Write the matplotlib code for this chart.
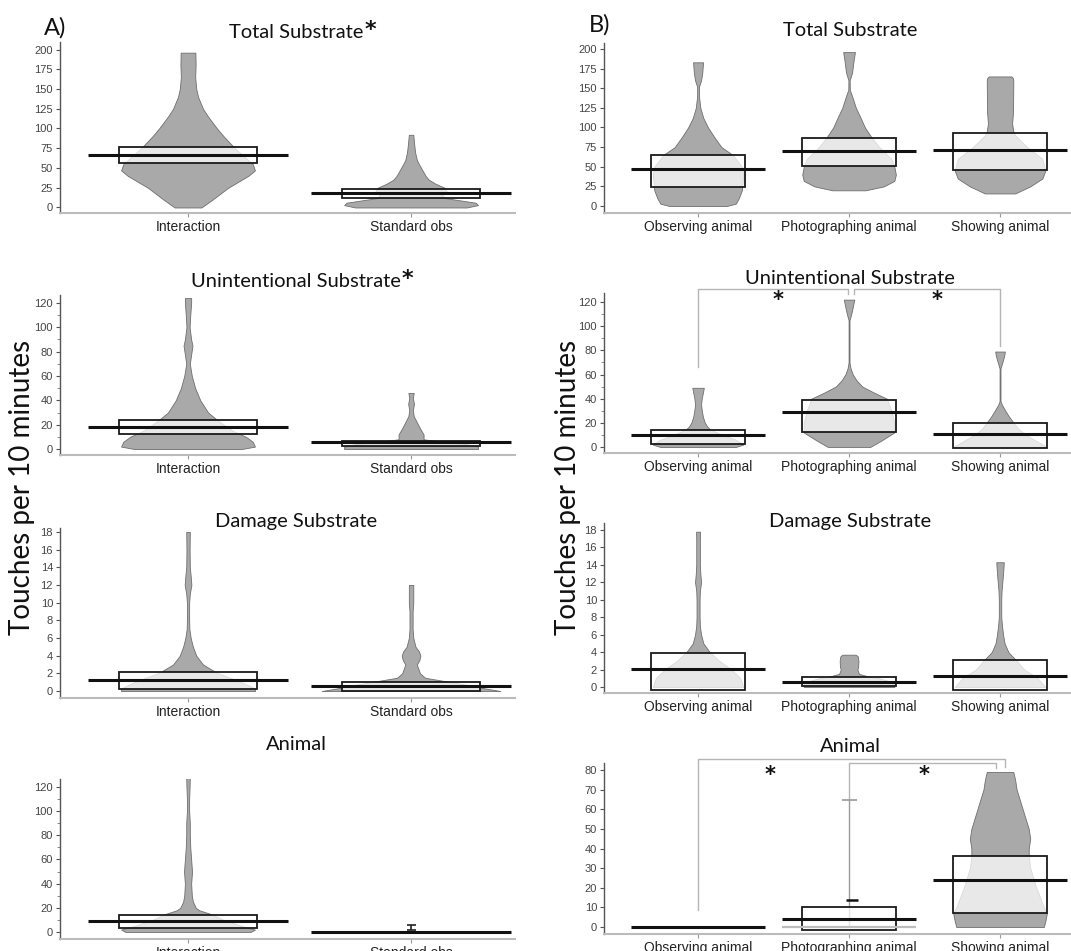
import matplotlib
matplotlib.use("Agg")
import matplotlib.pyplot as plt
from matplotlib.patches import Rectangle
from matplotlib.ticker import MultipleLocator

W, H, DPI = 1071, 951, 100

left_groups = ["Interaction", "Standard obs"]
right_groups = ["Observing animal", "Photographing animal", "Showing animal"]

a_titles = ["Total Substrate", "Unintentional Substrate", "Damage Substrate", "Animal"]
a_star = [True, True, False, False]
b_titles = ["Total Substrate", "Unintentional Substrate", "Damage Substrate", "Animal"]

# means and inference boxes (low, high) per group
a_means = [[67, 18.6], [18, 5.5], [1.2, 0.55], [8.8, 0.0]]
a_box_lo = [[55.7, 12.6], [12, 2.2], [0.2, 0.05], [3, None]]
a_box_hi = [[76.8, 23], [24, 6.3], [2.1, 1.0], [14.3, None]]

b_means = [[47, 70.6, 71.5], [9.7, 29, 11], [2.1, 0.6, 1.3], [0.0, 4.1, 24]]
b_box_lo = [[24, 50.6, 45.5], [2.2, 12, -0.5], [-0.35, 0.1, -0.35], [None, -1.5, 7]]
b_box_hi = [[65, 87, 93.5], [14.4, 38.5, 20], [3.9, 1.1, 3.05], [None, 10, 36]]

# violin outlines: (value, half width of density)
viol_a1_int = [(0, 0.06), (10, 0.11), (25, 0.18), (40, 0.27), (47, 0.30), (55, 0.29), (65, 0.25),
               (75, 0.21), (90, 0.16), (100, 0.13), (115, 0.09), (125, 0.067), (140, 0.045),
               (150, 0.037), (165, 0.032), (180, 0.034), (196, 0.033)]
viol_a1_std = [(0, 0.25), (3, 0.30), (6, 0.29), (9, 0.22), (12, 0.15), (16, 0.14), (20, 0.16),
               (25, 0.15), (30, 0.11), (35, 0.08), (40, 0.065), (45, 0.055), (50, 0.045),
               (55, 0.035), (60, 0.026), (70, 0.018), (80, 0.014), (92, 0.01)]
viol_a2_int = [(0, 0.24), (2, 0.30), (6, 0.29), (10, 0.26), (15, 0.20), (20, 0.16), (24, 0.13),
               (30, 0.09), (40, 0.055), (50, 0.032), (60, 0.017), (70, 0.008), (80, 0.016),
               (85, 0.02), (90, 0.014), (100, 0.007), (110, 0.01), (120, 0.014), (124, 0.014)]
viol_a2_std = [(0, 0.30), (2, 0.30), (4, 0.25), (6.5, 0.12), (8, 0.056), (12, 0.056), (17, 0.04),
               (22, 0.026), (27, 0.012), (32, 0.008), (37, 0.013), (42, 0.008), (46, 0.012)]
viol_a3_int = [(0, 0.30), (0.3, 0.30), (1, 0.24), (2.1, 0.127), (3, 0.067), (4, 0.037), (5, 0.022),
               (6, 0.012), (7, 0.006), (8, 0.005), (10, 0.005), (11, 0.008), (12, 0.015),
               (13, 0.012), (14, 0.008), (16, 0.007), (18, 0.008)]
viol_a3_std = [(0, 0.40), (0.3, 0.33), (0.7, 0.25), (1.0, 0.18), (1.5, 0.063), (2, 0.04), (3, 0.026),
               (3.5, 0.037), (4, 0.042), (4.5, 0.035), (5, 0.02), (6, 0.01), (7, 0.007), (9, 0.007),
               (10, 0.01), (12, 0.01)]
viol_a4_int = [(0, 0.28), (2, 0.30), (5, 0.24), (10, 0.16), (15, 0.10), (18, 0.05), (20, 0.035),
               (25, 0.022), (30, 0.017), (40, 0.014), (50, 0.018), (60, 0.014), (70, 0.01),
               (80, 0.008), (90, 0.008), (100, 0.005), (110, 0.005), (120, 0.007), (128, 0.008)]
viol_a4_std = []

viol_b1_obs = [(0, 0.19), (3, 0.25), (10, 0.27), (20, 0.29), (40, 0.30), (50, 0.29), (65, 0.23),
               (75, 0.155), (87, 0.11), (100, 0.066), (112, 0.035), (125, 0.015), (140, 0.006),
               (152, 0.006), (160, 0.02), (170, 0.028), (183, 0.033)]
viol_b1_pho = [(20, 0.11), (25, 0.23), (32, 0.30), (40, 0.31), (50, 0.30), (60, 0.28), (75, 0.20),
               (87, 0.15), (100, 0.105), (115, 0.07), (125, 0.045), (140, 0.02), (148, 0.005),
               (160, 0.004), (170, 0.02), (185, 0.03), (196, 0.039)]
viol_b1_sho = [(16, 0.10), (25, 0.20), (35, 0.28), (45, 0.30), (60, 0.28), (75, 0.18), (90, 0.10),
               (95, 0.088), (105, 0.08), (120, 0.086), (160, 0.088), (163, 0.085), (165, 0.075)]
viol_b2_obs = [(0, 0.25), (2, 0.30), (6, 0.25), (10, 0.16), (14.5, 0.08), (17, 0.06), (20, 0.045),
               (25, 0.032), (30, 0.025), (35, 0.02), (40, 0.024), (45, 0.032), (49, 0.038)]
viol_b2_pho = [(0, 0.14), (5, 0.21), (12, 0.30), (20, 0.30), (30, 0.28), (40, 0.25), (45, 0.165),
               (50, 0.088), (55, 0.05), (60, 0.025), (65, 0.01), (70, 0.003), (105, 0.003),
               (108, 0.01), (113, 0.02), (118, 0.028), (122, 0.035)]
viol_b2_sho = [(0, 0.31), (5, 0.24), (10, 0.17), (15, 0.12), (20, 0.09), (25, 0.06), (30, 0.035),
               (35, 0.012), (38, 0.003), (65, 0.003), (68, 0.01), (72, 0.02), (76, 0.028), (79, 0.032)]
viol_b3_obs = [(0, 0.30), (1, 0.28), (2, 0.22), (3, 0.14), (4, 0.077), (5, 0.035), (6, 0.02),
               (7, 0.012), (8, 0.01), (10, 0.01), (11, 0.012), (12, 0.02), (13, 0.015), (14, 0.012),
               (17, 0.012), (17.8, 0.013)]
viol_b3_pho = [(0, 0.30), (0.5, 0.30), (1.0, 0.2), (1.2, 0.13), (1.5, 0.066), (2, 0.055), (2.3, 0.06),
               (3, 0.062), (3.5, 0.058), (3.7, 0.045)]
viol_b3_sho = [(0, 0.30), (1, 0.25), (2, 0.16), (3, 0.11), (4, 0.055), (5, 0.03), (6, 0.02),
               (7, 0.013), (8, 0.008), (10, 0.008), (11, 0.01), (12, 0.015), (13, 0.02), (14.3, 0.025)]
viol_b4_obs = []
viol_b4_pho = []
viol_b4_sho = [(0, 0.29), (3, 0.30), (7, 0.31), (10, 0.29), (20, 0.24), (30, 0.20), (36, 0.19),
               (40, 0.19), (45, 0.20), (50, 0.19), (55, 0.17), (60, 0.15), (65, 0.13), (70, 0.11),
               (75, 0.10), (79, 0.088)]

a_violins = [[viol_a1_int, viol_a1_std], [viol_a2_int, viol_a2_std],
             [viol_a3_int, viol_a3_std], [viol_a4_int, viol_a4_std]]
b_violins = [[viol_b1_obs, viol_b1_pho, viol_b1_sho], [viol_b2_obs, viol_b2_pho, viol_b2_sho],
             [viol_b3_obs, viol_b3_pho, viol_b3_sho], [viol_b4_obs, viol_b4_pho, viol_b4_sho]]

# significance brackets: (x_from, x_to, y_left_end, y_right_end, y_top)
b2_brackets = [(1, 1.99, 66, 126.5, 131), (2.03, 3.0, 126.5, 84, 131)]
b2_stars = [(1.53, 122), (2.58, 122)]
b4_brackets = [(1, 3.03, 8.7, 81.5, 85.6), (2.0, 2.97, 64.6, 81.0, 83.6)]
b4_stars = [(1.48, 77.5), (2.5, 77.5)]

# whisker of photographing animal (lo, hi, inner mark) and standard obs animal
b4_pho_whisker = (0.5, 64.6, 14)
a4_std_whisker = (1.9, 5.5)

# axes placement in pixels: (ytop, ybottom) and y limits
a_rows = [(42, 213), (295, 455), (528, 698), (779, 939)]
b_rows = [(43, 213), (293, 453), (523, 693), (763, 934)]
a_ylims = [(-7, 209.5), (-4.9, 126.5), (-0.79, 18.45), (-5.8, 126.6)]
b_ylims = [(-8.9, 207.6), (-5, 127.5), (-0.69, 18.8), (-3.57, 83.6)]
a_major = [25, 20, 2, 20]
b_major = [25, 20, 2, 10]
minor_on = [False, True, False, True]
a_title_y = [33, 282, 522, 745]
b_title_y = [30, 278, 522, 747]

VIOL_FACE = "#a9a9a9"
VIOL_EDGE = "#6e6e6e"
TITLE_FONT = ["Lato", "DejaVu Sans"]
TICK_FONT = ["Liberation Sans", "DejaVu Sans"]
STAR_FONT = ["DejaVu Sans"]

fig = plt.figure(figsize=(W / DPI, H / DPI), dpi=DPI)


def add_ax(x0, x1, ytop, ybot):
    return fig.add_axes([x0 / W, 1 - ybot / H, (x1 - x0) / W, (ybot - ytop) / H])


def style(ax, groups, ylim, major, minor):
    ax.set_ylim(*ylim)
    ax.set_xticks(range(1, len(groups) + 1))
    ax.set_xticklabels(groups, fontsize=10, color="#222222", family=TICK_FONT)
    ax.yaxis.set_major_locator(MultipleLocator(major))
    if minor:
        ax.yaxis.set_minor_locator(MultipleLocator(major / 2))
        ax.tick_params(axis="y", which="minor", length=2.5, color="#777777")
    for t in ax.get_yticklabels():
        t.set_family(TICK_FONT)
    ax.tick_params(axis="y", which="major", labelsize=8, labelcolor="#444444", length=3,
                   color="#555555", pad=2)
    ax.tick_params(axis="x", length=3, color="#999999", pad=2)
    for s in ("top", "right"):
        ax.spines[s].set_visible(False)
    ax.spines["left"].set_color("#555555")
    ax.spines["left"].set_linewidth(1.0)
    ax.spines["bottom"].set_color("#bbbbbb")
    ax.spines["bottom"].set_linewidth(1.5)


def pirate(ax, x, prof, mean, lo, hi, box_half=0.31, mean_half=0.45):
    if prof:
        ys = [p[0] for p in prof]
        ws = [p[1] for p in prof]
        ax.fill_betweenx(ys, [x - w for w in ws], [x + w for w in ws],
                         facecolor=VIOL_FACE, edgecolor=VIOL_EDGE, lw=0.6, zorder=2)
    if lo is not None:
        ax.add_patch(Rectangle((x - box_half, lo), 2 * box_half, hi - lo,
                               facecolor=(1, 1, 1, 0.74), edgecolor="#1a1a1a", lw=1.3, zorder=3))
    ax.hlines(mean, x - mean_half, x + mean_half, color="#111111", lw=2.2, zorder=4)


axes_a, axes_b = [], []
for i in range(4):
    ax = add_ax(60, 515, *a_rows[i])
    ax.set_xlim(0.426, 2.466)
    style(ax, left_groups, a_ylims[i], a_major[i], minor_on[i])
    for j in range(2):
        pirate(ax, j + 1, a_violins[i][j], a_means[i][j], a_box_lo[i][j], a_box_hi[i][j])
    axes_a.append(ax)

    bx = add_ax(604, 1071, *b_rows[i])
    bx.set_xlim(0.377, 3.47)
    style(bx, right_groups, b_ylims[i], b_major[i], minor_on[i] and i == 1)
    for j in range(3):
        pirate(bx, j + 1, b_violins[i][j], b_means[i][j], b_box_lo[i][j], b_box_hi[i][j],
               box_half=0.31, mean_half=0.445)
    axes_b.append(bx)

# extra marks on the Animal panels
ax = axes_a[3]
lo, hi = a4_std_whisker
ax.vlines(2, lo, hi, color="#222222", lw=1.2, zorder=5)
ax.hlines([lo, hi], 2 - 0.02, 2 + 0.02, color="#222222", lw=1.2, zorder=5)

bx = axes_b[3]
wlo, whi, wmid = b4_pho_whisker
bx.vlines(2, wlo, whi, color="#9a9a9a", lw=1.0, zorder=2)
bx.hlines(whi, 2 - 0.05, 2 + 0.05, color="#9a9a9a", lw=1.2, zorder=2)
bx.hlines(wmid, 2 - 0.02, 2 + 0.06, color="#111111", lw=1.8, zorder=5)
bx.hlines(0, 2 - 0.445, 2 + 0.445, color="#bdbdbd", lw=1.6, zorder=3)


def brackets(ax, items, stars):
    for x0, x1, yl, yr, yt in items:
        ax.plot([x0, x0, x1, x1], [yl, yt, yt, yr], color="#b5b5b5", lw=1.0,
                clip_on=False, zorder=1)
    for sx, sy in stars:
        ax.text(sx, sy, "*", ha="center", va="center", fontsize=15, fontweight="bold",
                family=STAR_FONT, color="#111111", clip_on=False)


brackets(axes_b[1], b2_brackets, b2_stars)
brackets(axes_b[3], b4_brackets, b4_stars)

# titles
renderer = fig.canvas.get_renderer()
for i in range(4):
    t = fig.text(296 / W, 1 - a_title_y[i] / H, a_titles[i], ha="center", va="center",
                 fontsize=14.5, family=TITLE_FONT, color="#111111")
    if a_star[i]:
        bb = t.get_window_extent(renderer)
        fig.text((bb.x1 + 1) / W, (bb.y1 - 6) / H, "*", ha="left", va="center",
                 fontsize=16, fontweight="bold", family=STAR_FONT, color="#111111")
    fig.text(850 / W, 1 - b_title_y[i] / H, b_titles[i], ha="center", va="center",
             fontsize=14.5, family=TITLE_FONT, color="#111111")

fig.text(55 / W, 1 - 28 / H, "A)", ha="center", va="center", fontsize=17,
         family=TITLE_FONT, color="#111111")
fig.text(600 / W, 1 - 25 / H, "B)", ha="center", va="center", fontsize=17,
         family=TITLE_FONT, color="#111111")

for x in (22, 568):
    fig.text(x / W, 1 - 487 / H, "Touches per 10 minutes", rotation=90, ha="center",
             va="center", fontsize=20, family=TITLE_FONT, color="#111111")

fig.savefig("out.png", dpi=DPI)
